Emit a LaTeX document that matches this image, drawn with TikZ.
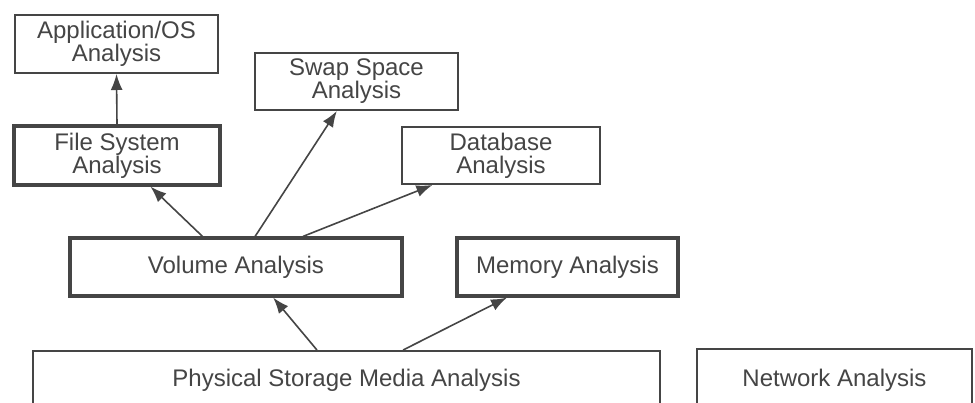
\documentclass[tikz,border=0pt]{standalone}
\usepackage{fontspec}
\setmainfont{Liberation Sans}
\usetikzlibrary{arrows.meta,positioning,calc}
\definecolor{ink}{HTML}{454545}
\begin{document}
\begin{tikzpicture}[x=0.5pt,y=-0.5pt,
	box/.style={draw=ink,line width=1pt,text=ink,align=center,inner sep=0pt,font=\fontsize{12}{11.5}\selectfont},
	heavybox/.style={box,line width=1.6pt},
	link/.style={draw=ink,line width=0.8pt,-{Latex[length=8pt,width=6pt]}}]
	\useasboundingbox[fill=white] (0,0) rectangle (975,402);
	\node[box,minimum width=101.5pt,minimum height=29pt] (app) at (116.5,44) {Application/OS\\Analysis};
	\node[heavybox,minimum width=103pt,minimum height=29.5pt] (fs) at (117,155.5) {File System\\Analysis};
	\node[box,minimum width=101.5pt,minimum height=28.5pt] (swap) at (356.5,81.5) {Swap Space\\Analysis};
	\node[box,minimum width=99pt,minimum height=28.5pt] (db) at (501,155.5) {Database\\Analysis};
	\node[heavybox,minimum width=166pt,minimum height=29pt] (vol) at (236,267) {Volume Analysis};
	\node[heavybox,minimum width=110.5pt,minimum height=29pt] (mem) at (567.5,267) {Memory Analysis};
	\node[box,minimum width=313.5pt,minimum height=29pt] (phys) at (346.5,380) {Physical Storage Media Analysis};
	\node[box,minimum width=137.5pt,minimum height=31pt] (net) at (834.5,380) {Network Analysis};

	\draw[link] (fs.north) -- (app.south);
	\draw[link] ($(vol.north west)!0.40!(vol.north east)$) -- ($(fs.south west)!0.66!(fs.south east)$);
	\draw[link] ($(vol.north west)!0.557!(vol.north east)$) -- ($(swap.south west)!0.404!(swap.south east)$);
	\draw[link] ($(vol.north west)!0.70!(vol.north east)$) -- ($(db.south west)!0.157!(db.south east)$);
	\draw[link] ($(phys.north west)!0.453!(phys.north east)$) -- ($(vol.south west)!0.611!(vol.south east)$);
	\draw[link] ($(phys.north west)!0.59!(phys.north east)$) -- ($(mem.south west)!0.23!(mem.south east)$);
\end{tikzpicture}
\end{document}
